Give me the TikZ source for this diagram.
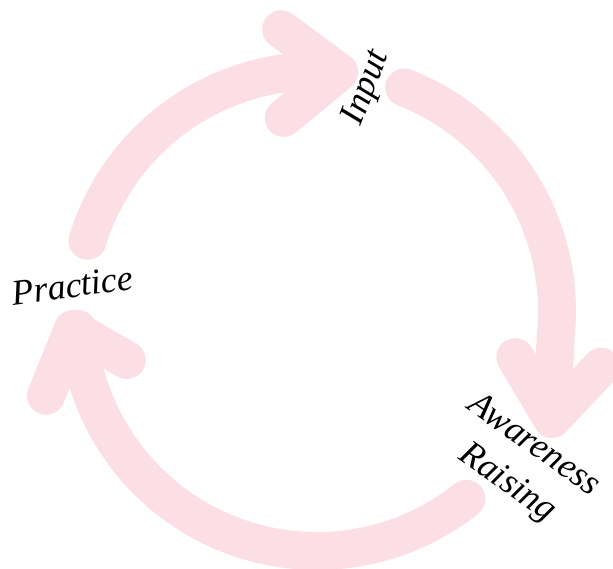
\documentclass[tikz,border=0pt]{standalone}
\usepackage{fontspec}
\setmainfont{Liberation Serif}
\definecolor{cyclepink}{RGB}{252,223,228}

\begin{document}
\begin{tikzpicture}[
    x=1pt, y=1pt,
    cyclearrow/.style={
        draw=cyclepink,
        line width=38pt,
        line cap=round,
        line join=round
    },
    phase/.style={
        align=center,
        font=\itshape\fontsize{36}{46}\selectfont
    }
]

\useasboundingbox (-317,-257) rectangle (296,311);
\clip (-317,-257) rectangle (296,311);

\draw[cyclearrow] (163:240) arc[start angle=163, end angle=84.7, radius=240] coordinate (tip1)
    -- ++(143.6:72) (tip1) -- ++(219.6:72);

\draw[cyclearrow] (68.7:240) arc[start angle=68.7, end angle=-6.2, radius=240]
    -- (235,-108) coordinate (tip2) -- ++(120.7:72) (tip2) -- ++(46.7:72);

\draw[cyclearrow] (-51.5:240) arc[start angle=-51.5, end angle=-175.7, radius=240]
    -- (-244,-18) coordinate (tip3) -- ++(248:72) (tip3) -- ++(330:62);

\node[phase, rotate=69] (input) at (50,223) {Input};
\node[phase, rotate=7.5] (practice) at (-244.5,25.5) {Practice};
\node[phase, rotate=-35] (awareness) at (203,-154) {Awareness\\Raising};

\end{tikzpicture}
\end{document}
